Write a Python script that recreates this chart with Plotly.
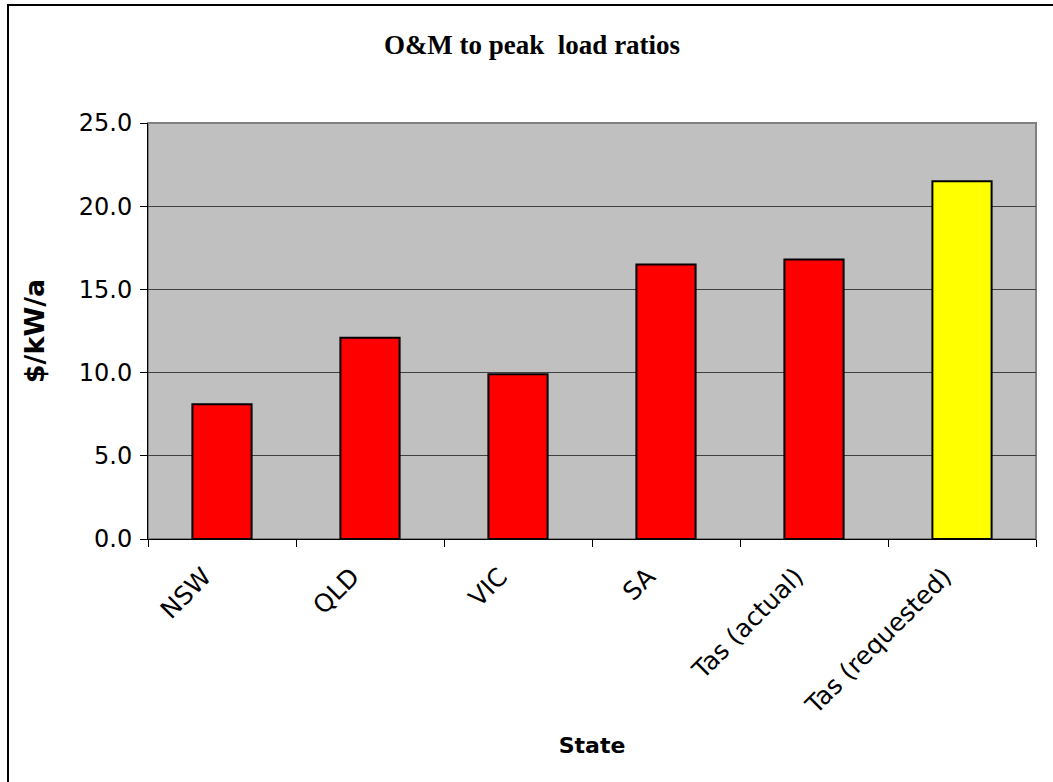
import plotly.graph_objects as go

states = ["NSW", "QLD", "VIC", "SA", "Tas (actual)", "Tas (requested)"]
ratios = [8.1, 12.1, 9.9, 16.5, 16.8, 21.5]
bar_colors = ["#FF0000", "#FF0000", "#FF0000", "#FF0000", "#FF0000", "#FFFF00"]
y_ticks = [0, 5, 10, 15, 20, 25]
y_tick_text = ["0.0", "5.0", "10.0", "15.0", "20.0", "25.0"]

W, H = 1053, 782
ml, mr, mt, mb = 148, 17, 123, 243
pw, ph = W - ml - mr, H - mt - mb

def px_x(p):
    return (p - ml) / pw

def px_y(p):
    return (H - mb - p) / ph

fig = go.Figure(
    go.Bar(
        x=states,
        y=ratios,
        marker=dict(color=bar_colors, line=dict(color="#000000", width=2)),
        width=0.4,
    )
)

fig.update_layout(
    width=W,
    height=H,
    margin=dict(l=ml, r=mr, t=mt, b=mb, autoexpand=False),
    paper_bgcolor="#FFFFFF",
    plot_bgcolor="#C0C0C0",
    showlegend=False,
    title=dict(
        text="<b>O&amp;M to peak  load ratios</b>",
        x=532 / W,
        xanchor="center",
        y=1 - 45 / H,
        yanchor="middle",
        font=dict(family="Liberation Serif", size=27, color="#000000"),
    ),
    xaxis=dict(
        tickangle=-45,
        tickfont=dict(family="DejaVu Sans", size=25, color="#000000"),
        ticks="outside",
        tickson="boundaries",
        ticklen=7,
        ticklabelstandoff=12,
        ticklabelshift=-18,
        tickcolor="#000000",
        showline=True,
        linecolor="#000000",
        linewidth=1,
        showgrid=False,
        automargin=False,
        title=dict(
            text="<b>State</b>",
            font=dict(family="DejaVu Sans", size=22, color="#000000"),
            standoff=18,
        ),
    ),
    yaxis=dict(
        range=[0, 25],
        tickvals=y_ticks,
        ticktext=y_tick_text,
        tickfont=dict(family="DejaVu Sans", size=24, color="#000000"),
        ticks="outside",
        ticklen=7,
        ticklabelstandoff=3,
        tickcolor="#000000",
        showline=True,
        linecolor="#000000",
        linewidth=1,
        showgrid=True,
        gridcolor="#404040",
        gridwidth=1,
        zeroline=False,
        automargin=False,
        title=dict(
            text="<b>$/kW/a</b>",
            font=dict(family="DejaVu Sans", size=27, color="#000000"),
            standoff=26,
        ),
    ),
    shapes=[
        # grey frame around the plotting area
        dict(type="rect", xref="paper", yref="paper", x0=0, x1=1, y0=0, y1=1,
             line=dict(color="#808080", width=2), fillcolor="rgba(0,0,0,0)",
             layer="below"),
        # outer chart border
        dict(type="rect", xref="paper", yref="paper",
             x0=px_x(8), x1=px_x(1070), y0=px_y(800), y1=px_y(5),
             line=dict(color="#000000", width=2), fillcolor="rgba(0,0,0,0)"),
    ],
)

fig.write_html("out.html")
